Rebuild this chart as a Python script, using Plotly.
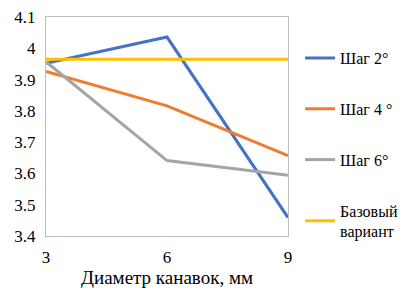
import plotly.graph_objects as go

x_vals = [3, 6, 9]
step2 = [3.952, 4.036, 3.459]
step4 = [3.926, 3.816, 3.657]
step6 = [3.957, 3.641, 3.594]
base = [3.965, 3.965, 3.965]
names = ["Шаг 2°", "Шаг 4 °", "Шаг 6°", "Базовый<br>вариант"]
colors = ["#4472C4", "#ED7D31", "#A5A5A5", "#FFC000"]
series = [step2, step4, step6, base]
y_ticks = [3.4, 3.5, 3.6, 3.7, 3.8, 3.9, 4.0, 4.1]
y_labels = ["3.4", "3.5", "3.6", "3.7", "3.8", "3.9", "4", "4.1"]

fig = go.Figure()
for i, (n, c, s) in enumerate(zip(names, colors, series)):
    fig.add_trace(go.Scatter(x=x_vals, y=s, mode="lines", name=n,
                             line=dict(color=c, width=3), legendgroup=f"g{i}"))

font = "Times New Roman"
fig.update_layout(
    width=412, height=292,
    margin=dict(l=38, r=132, t=9, b=64, autoexpand=False),
    paper_bgcolor="white", plot_bgcolor="white",
    font=dict(family=font, size=17, color="black"),
    showlegend=True,
    legend=dict(x=1.05, y=0.89, xanchor="left", yanchor="top",
                font=dict(family=font, size=16), tracegroupgap=27,
                bgcolor="rgba(0,0,0,0)"),
    xaxis=dict(range=[3, 9], tickvals=x_vals, showgrid=False, zeroline=False,
               showline=True, linecolor="#BFBFBF", linewidth=1, mirror=True,
               ticks="", ticklabelstandoff=6, automargin=False,
               title=dict(text="Диаметр канавок, мм", font=dict(size=19), standoff=2)),
    yaxis=dict(range=[3.4, 4.1001], tickvals=y_ticks, ticktext=y_labels,
               showgrid=False, zeroline=False, ticklabeloverflow="allow",
               showline=True, linecolor="#BFBFBF", linewidth=1, mirror=True,
               ticks="", ticklabelstandoff=6, automargin=False),
)
fig.write_html("out.html")
